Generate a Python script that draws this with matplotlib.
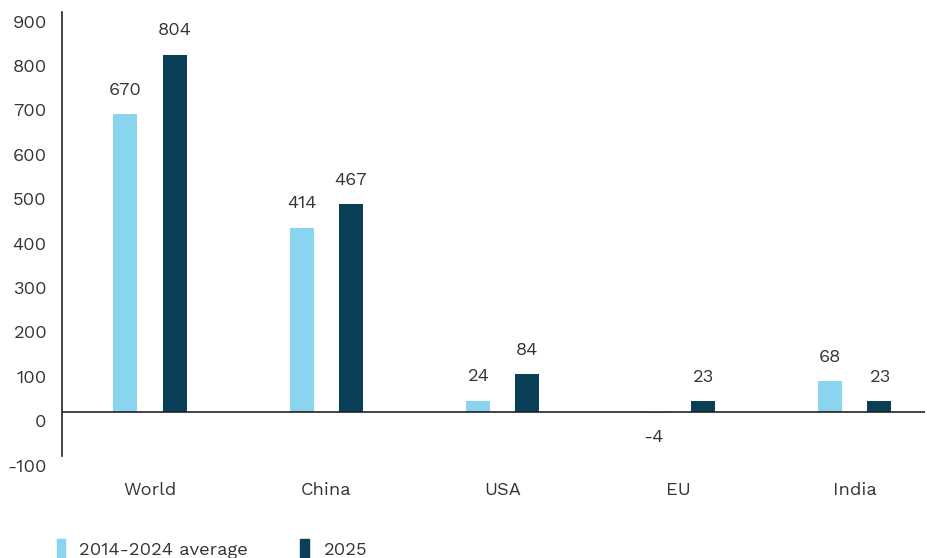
import numpy as np
import matplotlib.pyplot as plt
import matplotlib.transforms as mtransforms
from matplotlib.patches import Patch

plt.rcParams['font.family'] = ['Work Sans', 'Roboto', 'DejaVu Sans']
plt.rcParams['axes.unicode_minus'] = False

regions = ["World", "China", "USA", "EU", "India"]
avg_2014_2024 = [670, 414, 24, -4, 68]
year_2025 = [804, 467, 84, 23, 23]
series_names = ["2014-2024 average", "2025"]

light = "#89d4ee"
dark = "#0a3f58"
text_col = "#333333"
fs = 13.2

fig = plt.figure(figsize=(9.28, 5.58), dpi=100)
ax = fig.add_axes([62 / 928, 1 - 456 / 558, (925 - 62) / 928, (456 - 12) / 558])

x = np.arange(len(regions))
w = 0.136
off = 0.14
b1 = ax.bar(x - off, avg_2014_2024, w, color=light)
b2 = ax.bar(x + off, year_2025, w, color=dark)

# value labels above (or below, if negative) each bar
for bars, vals in ((b1, avg_2014_2024), (b2, year_2025)):
    for rect, v in zip(bars, vals):
        cx = rect.get_x() + rect.get_width() / 2
        dy = 24 if v >= 0 else -24
        ax.annotate(str(v), (cx, v), xytext=(0, dy * 0.72), textcoords="offset points",
                    ha="center", va="center", fontsize=fs, color=text_col)

ax.set_ylim(-100, 900)
ax.set_xlim(-0.5, 4.4)
ax.set_yticks(range(-100, 1000, 100))
ax.set_xticks(x)
ax.set_xticklabels(regions)
ax.tick_params(axis="y", length=0, pad=11, labelsize=fs, labelcolor=text_col)
ax.tick_params(axis="x", length=0, pad=19, labelsize=fs, labelcolor=text_col)

# y tick labels sit a bit below their gridline value
shift = mtransforms.ScaledTranslation(0, -9 / 100, fig.dpi_scale_trans)
for lab in ax.get_yticklabels():
    lab.set_transform(lab.get_transform() + shift)

for s in ("top", "right", "bottom"):
    ax.spines[s].set_visible(False)
ax.spines["left"].set_color("#222222")
ax.spines["left"].set_linewidth(1.2)
ax.axhline(0, color="#222222", lw=1.2, zorder=3)

handles = [Patch(color=light), Patch(color=dark)]
fig.legend(handles, series_names, loc="center left", bbox_to_anchor=(40 / 928, 1 - 549 / 558),
           ncol=2, frameon=False, fontsize=fs, handlelength=0.45, handleheight=1.2,
           handletextpad=0.8, columnspacing=2.85, labelcolor=text_col)

fig.savefig("out.png", dpi=100)
